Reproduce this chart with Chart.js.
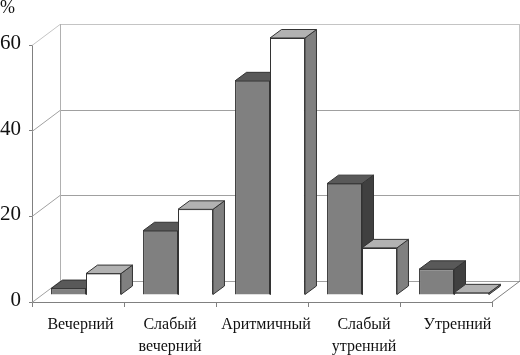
<!DOCTYPE html>
<html>
<head>
<meta charset="utf-8">
<style>body{margin:0;background:#fff}canvas{display:block}</style>
<script src="https://cdn.jsdelivr.net/npm/chart.js@4"></script>
</head>
<body>
<canvas id="myChart" width="520" height="355"></canvas>
<script>
const categories = ['Вечерний', ['Слабый', 'вечерний'], 'Аритмичный', ['Слабый', 'утренний'], 'Утренний'];
const seriesDark = [1.5, 15, 50, 26, 6];
const seriesWhite = [5, 20, 60, 11, 0.5];
const yTicks = [0, 20, 40, 60];

// 3d look: depth of the box and how far the bars sit inside it
const WALL = {dx: 28, dy: -21};
const BAR_SHIFT = {dx: 8, dy: -7};
const BAR_DEPTH = {dx: 11.5, dy: -8.5};
const FACES = [
    {top: '#595959', side: '#404040'},
    {top: '#b2b2b2', side: '#808080'}
];
// the category labels are not centred on their ticks in the original
const LABEL_SHIFT = [2.5, 0, 4, 10, 11.5];

function line(ctx, x1, y1, x2, y2, color) {
    ctx.strokeStyle = color;
    ctx.lineWidth = 1;
    ctx.beginPath();
    ctx.moveTo(x1, y1);
    ctx.lineTo(x2, y2);
    ctx.stroke();
}

function face(ctx, pts, color) {
    ctx.fillStyle = color;
    ctx.strokeStyle = '#333333';
    ctx.lineWidth = 1;
    ctx.beginPath();
    pts.forEach((p, i) => i ? ctx.lineTo(p[0], p[1]) : ctx.moveTo(p[0], p[1]));
    ctx.closePath();
    ctx.fill();
    ctx.stroke();
}

const box3d = {
    id: 'box3d',
    beforeDraw(chart) {
        const x = chart.scales.x;
        x.getLabelItems().forEach((item, i) => {
            item.options.translation[0] = x.getPixelForTick(i) + LABEL_SHIFT[i];
        });
    },
    beforeDatasetsDraw(chart) {
        const {ctx, chartArea: a, scales: {y}} = chart;
        ctx.save();
        yTicks.forEach(v => {
            const py = Math.round(y.getPixelForValue(v)) + 0.5;
            const c = v === 60 ? '#c4c4c4' : '#a0a0a0';
            line(ctx, a.left, py, a.left + WALL.dx, py + WALL.dy, c);
            line(ctx, a.left + WALL.dx, py + WALL.dy, a.right + WALL.dx, py + WALL.dy, c);
        });
        line(ctx, a.left + WALL.dx + 0.5, a.top + WALL.dy, a.left + WALL.dx + 0.5, a.bottom + WALL.dy, '#b0b0b0');
        line(ctx, a.right + WALL.dx - 0.5, a.top + WALL.dy, a.right + WALL.dx - 0.5, a.bottom + WALL.dy, '#c4c4c4');
        line(ctx, a.right, a.bottom, a.right + WALL.dx, a.bottom + WALL.dy, '#808080');

        ctx.translate(BAR_SHIFT.dx, BAR_SHIFT.dy);
        [0, 1].forEach(i => {
            chart.getDatasetMeta(i).data.forEach(bar => {
                const l = bar.x - bar.width / 2, r = bar.x + bar.width / 2;
                const t = bar.y, b = bar.base;
                const dx = BAR_DEPTH.dx, dy = BAR_DEPTH.dy;
                bar.draw(ctx);
                face(ctx, [[r, t], [r + dx, t + dy], [r + dx, b + dy], [r, b]], FACES[i].side);
                face(ctx, [[l, t], [l + dx, t + dy], [r + dx, t + dy], [r, t]], FACES[i].top);
            });
        });
        ctx.restore();
    },
    // bars are painted above, dark series first so the white one overlaps it
    beforeDatasetDraw() {
        return false;
    },
    afterDraw(chart) {
        const ctx = chart.ctx;
        ctx.save();
        ctx.fillStyle = '#111';
        ctx.font = '18px "Liberation Serif"';
        ctx.textBaseline = 'top';
        ctx.fillText('%', 0, -1);
        ctx.restore();
    }
};

new Chart(document.getElementById('myChart'), {
    type: 'bar',
    plugins: [box3d],
    data: {
        labels: categories,
        datasets: [
            {data: seriesDark, backgroundColor: '#808080', borderColor: '#333333', borderWidth: 1},
            {data: seriesWhite, backgroundColor: '#ffffff', borderColor: '#333333', borderWidth: 1}
        ]
    },
    options: {
        responsive: false,
        animation: false,
        categoryPercentage: 0.76,
        barPercentage: 1,
        layout: {padding: {top: 45, right: 28, left: 0, bottom: 0}},
        plugins: {legend: {display: false}, tooltip: {enabled: false}},
        scales: {
            x: {
                afterFit(scale) { scale.height = 53; },
                border: {color: '#808080'},
                grid: {offset: true, drawOnChartArea: false, color: '#808080', tickLength: 5},
                ticks: {
                    color: '#111',
                    autoSkip: false,
                    maxRotation: 0,
                    padding: 7,
                    font: {family: '"Liberation Serif"', size: 16, lineHeight: 1.375}
                }
            },
            y: {
                min: 0,
                max: 60,
                afterFit(scale) { scale.width = 32; },
                afterBuildTicks(scale) { scale.ticks = yTicks.map(v => ({value: v})); },
                border: {color: '#808080'},
                grid: {drawOnChartArea: false, color: '#808080', tickLength: 3},
                ticks: {
                    color: '#111',
                    padding: 8,
                    labelOffset: -1.5,
                    font: {family: '"Liberation Serif"', size: 21}
                }
            }
        }
    }
});
</script>
</body>
</html>
